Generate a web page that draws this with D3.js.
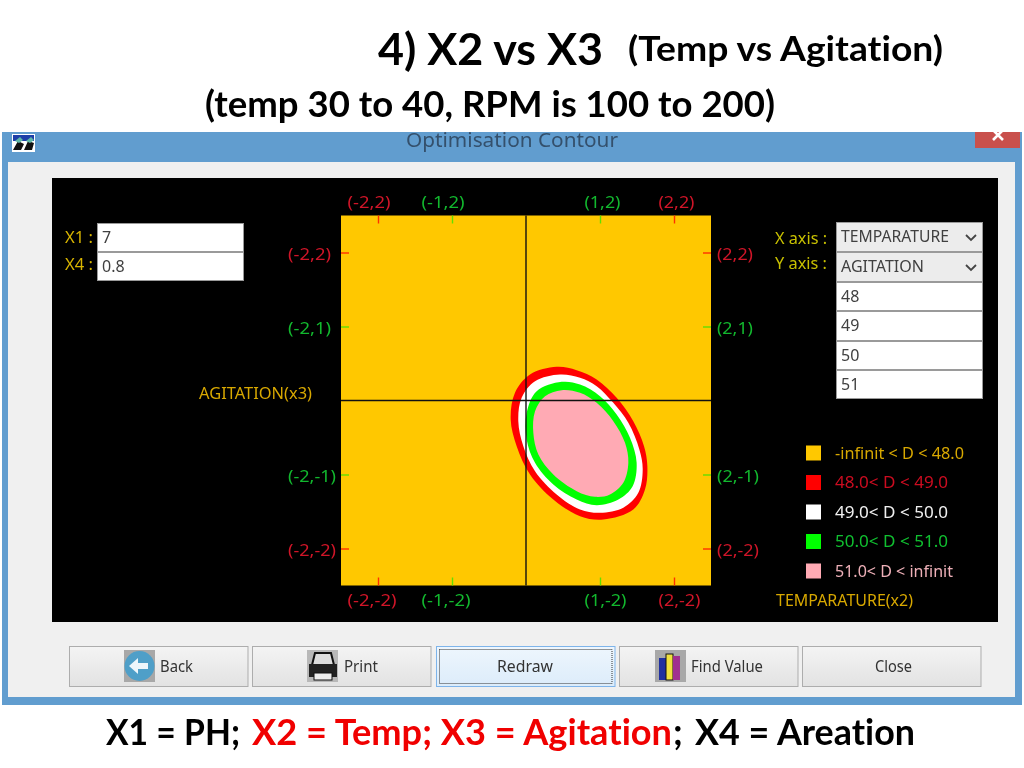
<!DOCTYPE html>
<html><head><meta charset="utf-8">
<script src="https://cdn.jsdelivr.net/npm/d3@7"></script>
<style>html,body{margin:0;padding:0;background:#fff;overflow:hidden}svg{display:block;filter:blur(0.45px)}text{font-variant-ligatures:none}</style>
</head><body><svg id="c" width="1024" height="768"></svg>
<script>
// ---- data (coded units) ----
const xTicks = [-2, -1, 1, 2];
const yTicks = [2, 1, -1, -2];
const contourLevels = ["48.0-49.0", "49.0-50.0", "50.0-51.0", "51.0+"];
const contour48 = [[0.414,0.455],[0.685,0.410],[0.955,0.284],[1.225,0.036],[1.450,-0.279],[1.595,-0.617],[1.640,-0.887],[1.608,-1.203],[1.450,-1.473],[1.045,-1.608],[0.730,-1.563],[0.369,-1.338],[0.054,-1.000],[-0.126,-0.617],[-0.207,-0.257],[-0.149,0.104],[0.054,0.351]];
const contour49 = [[0.459,0.351],[0.730,0.306],[0.955,0.194],[1.180,-0.032],[1.383,-0.302],[1.532,-0.662],[1.577,-0.932],[1.518,-1.248],[1.315,-1.450],[1.000,-1.518],[0.730,-1.473],[0.414,-1.270],[0.122,-0.955],[-0.036,-0.617],[-0.104,-0.279],[-0.059,0.036],[0.122,0.261]];
const contour50 = [[0.482,0.252],[0.730,0.216],[1.000,0.059],[1.225,-0.189],[1.405,-0.505],[1.495,-0.842],[1.441,-1.158],[1.248,-1.338],[0.955,-1.414],[0.685,-1.338],[0.369,-1.135],[0.122,-0.842],[0.009,-0.527],[0.009,-0.167],[0.144,0.126]];
const contour51 = [[0.482,0.140],[0.730,0.104],[0.955,-0.032],[1.180,-0.279],[1.338,-0.572],[1.383,-0.842],[1.315,-1.113],[1.135,-1.270],[0.932,-1.302],[0.685,-1.225],[0.369,-1.000],[0.167,-0.730],[0.099,-0.437],[0.122,-0.144],[0.257,0.059]];
const legendLabels = ["-infinit < D < 48.0","48.0< D < 49.0","49.0< D < 50.0","50.0< D < 51.0","51.0< D < infinit"];
const levelInputs = ["48","49","50","51"];
const buttonLabels = ["Back","Print","Redraw","Find Value","Close"];

// ---- styles ----
const swatchColors = ["#ffc800","#ff0000","#ffffff","#00ff00","#ffaab4"];
const legendText = ["#d8a800","#cc0c20","#f0f0f0","#10c030","#eeb0b8"];
const tickColor = v => Math.abs(v) === 2 ? "#d01528" : "#12b82e";
const markColor = v => Math.abs(v) === 2 ? "#ff3000" : "#60e000";
const UI = "'Noto Sans','Open Sans',sans-serif";
const svg = d3.select("#c");

function rect(x0,y0,x1,y1,fill,stroke){
  return svg.append("rect").attr("x",x0).attr("y",y0).attr("width",x1-x0).attr("height",y1-y0)
    .attr("fill",fill).attr("stroke",stroke||"none");
}
function text(x,y,s,opt){
  opt=opt||{};
  const t=svg.append("text").attr("x",x).attr("y",y).text(s)
    .attr("font-family",opt.font||UI).attr("font-size",opt.size||16)
    .attr("font-weight",opt.weight||400).attr("fill",opt.fill||"#000")
    .attr("text-anchor",opt.anchor||"start");
  if(opt.len) t.attr("textLength",opt.len).attr("lengthAdjust","spacingAndGlyphs");
  return t;
}

// ---- slide headings ----
const HEAD="Lato,Carlito,sans-serif";
text(378,65,"4) X2 vs X3",{font:HEAD,size:43,weight:700,len:225});
text(628,61,"(Temp vs Agitation)",{font:HEAD,size:34,weight:700,len:315});
text(205,117,"(temp 30 to 40, RPM is 100 to 200)",{font:HEAD,size:36,weight:700,len:570});
const foot=svg.append("text").attr("y",745).attr("font-family",HEAD).attr("font-size",36).attr("font-weight",700);
foot.append("tspan").attr("x",106).attr("textLength",134).attr("lengthAdjust","spacingAndGlyphs").text("X1 = PH;");
foot.append("tspan").attr("x",252).attr("textLength",420).attr("lengthAdjust","spacingAndGlyphs").attr("fill","#f00000").text("X2 = Temp; X3 = Agitation");
foot.append("tspan").attr("x",673).text(";");
foot.append("tspan").attr("x",695).attr("textLength",220).attr("lengthAdjust","spacingAndGlyphs").text("X4 = Areation");

// ---- window chrome ----
rect(2,132,1022,705,"#619dcf");
rect(8,162,1015,697,"#f0f0f0");
rect(975,132,1020,148,"#c9504c");
svg.append("path").attr("d","M993 130L1003 140M1003 130L993 140").attr("stroke","#fff").attr("stroke-width",2.6);
rect(985,126,1012,132,"#fff");
text(512,147,"Optimisation Contour",{fill:"#34506c",size:19,anchor:"middle",len:212});
rect(12,134,35,152,"#ffffff");
rect(13,135,34,141,"#1e3fa8");
svg.append("path").attr("d","M13 150l5-9 6 3-3 6zM24 150l4-9 6 2-2 7z").attr("fill","#111");
svg.append("path").attr("d","M15 141l5-4 3 3-4 3zM26 141l5-4 3 3-4 3z").attr("fill","#5fb8a8");
rect(52,178,998,622,"#000");

// ---- plot ----
const x=d3.scaleLinear().domain([-2.5,2.5]).range([341,711]);
const y=d3.scaleLinear().domain([-2.5,2.5]).range([585.5,215.5]);
rect(x(-2.5),y(2.5),x(2.5),y(-2.5),"#ffc800");
const line=d3.line().x(d=>x(d[0])).y(d=>y(d[1])).curve(d3.curveCatmullRomClosed);
svg.append("g").selectAll("path")
  .data([contour48,contour49,contour50,contour51]).join("path")
  .attr("d",line).attr("fill",(d,i)=>swatchColors[i+1]);
svg.append("line").attr("x1",x(0)).attr("x2",x(0)).attr("y1",y(2.5)).attr("y2",y(-2.5)).attr("stroke","#111").attr("stroke-width",1.4);
svg.append("line").attr("x1",x(-2.5)).attr("x2",x(2.5)).attr("y1",y(0)).attr("y2",y(0)).attr("stroke","#111").attr("stroke-width",1.4);

function drawAxis(axis,tx,ty,vals,labelOf,labelLen){
  const g=svg.append("g").attr("transform",`translate(${tx},${ty})`)
    .call(axis.tickValues(vals).tickSize(-8).tickFormat(labelOf));
  g.select(".domain").remove();
  g.selectAll(".tick line").attr("stroke",markColor).attr("stroke-width",1.4);
  g.selectAll(".tick text").attr("fill",tickColor).attr("font-family",UI).attr("font-size",16)
    .attr("textLength",labelLen).attr("lengthAdjust","spacingAndGlyphs");
  return g;
}
// the dialog starts each horizontal label at a fixed offset from its tick
const hOffset = v => v < 0 ? -31 : -16;
const hLen = (v,extra) => (v < 0 ? 43 : 36) + extra;
drawAxis(d3.axisTop(x).tickPadding(8),0,y(2.5),xTicks,v=>`(${v},2)`,v=>hLen(v,0))
  .selectAll(".tick text").attr("text-anchor","start").attr("x",hOffset);
drawAxis(d3.axisBottom(x).tickPadding(9),0,y(-2.5),xTicks,v=>`(${v},-2)`,v=>hLen(v,6))
  .selectAll(".tick text").attr("text-anchor","start").attr("x",hOffset);
drawAxis(d3.axisLeft(y).tickPadding(10),x(-2.5),0,yTicks,v=>`(-2,${v})`,v=>v<0?48:43)
  .selectAll(".tick text").attr("text-anchor","start").attr("x",-53).attr("dy","0.42em");
drawAxis(d3.axisRight(y).tickPadding(6),x(2.5),0,yTicks,v=>`(2,${v})`,v=>v<0?42:36)
  .selectAll(".tick text").attr("dy","0.42em");

text(199,399,"AGITATION(x3)",{fill:"#d8a800",len:113});
text(776,606,"TEMPARATURE(x2)",{fill:"#d8a800",len:137});

// ---- inputs ----
function box(x0,y0,x1,y1,label,combo,len){
  const b=rect(x0+.5,y0+.5,x1-.5,y1-.5,combo?"#ececec":"#fff","#9a9a9a");
  text(x0+5,y0+20,label,{fill:"#404040",len:len});
  if(combo) svg.append("path").attr("d",`M${x1-17} ${y0+13}l5 5l5 -5`).attr("fill","none").attr("stroke","#444").attr("stroke-width",1.8);
  return b;
}
text(65,243,"X1 :",{fill:"#d8b400",len:28});
text(65,270,"X4 :",{fill:"#d8b400",len:28});
box(97,223,244,252,"7");
box(97,252,244,281,"0.8");
text(775,244,"X axis :",{fill:"#c8c000",len:52});
text(775,269,"Y axis :",{fill:"#c8c000",len:52});
box(836,222,983,252,"TEMPARATURE",true,108);
box(836,252,983,282,"AGITATION",true,83);
levelInputs.forEach((v,i)=>box(836,[282,311,341,370][i],983,[311,341,370,399][i],v));

// ---- legend ----
const legY=d3.scalePoint().domain(d3.range(5)).range([453,571]);
const legWidths=[129,113,113,113,118];
legendLabels.forEach((s,i)=>{
  rect(806,legY(i)-7.5,821,legY(i)+7.5,swatchColors[i]);
  text(835,legY(i)+5.5,s,{fill:legendText[i],len:legWidths[i]});
});

// ---- buttons ----
const defs=svg.append("defs");
const gr=defs.append("linearGradient").attr("id","btn").attr("x1",0).attr("x2",0).attr("y1",0).attr("y2",1);
gr.append("stop").attr("offset",0).attr("stop-color","#f4f4f4");
gr.append("stop").attr("offset",1).attr("stop-color","#e2e2e2");
const gr2=defs.append("linearGradient").attr("id","btn2").attr("x1",0).attr("x2",0).attr("y1",0).attr("y2",1);
gr2.append("stop").attr("offset",0).attr("stop-color","#eef6fd");
gr2.append("stop").attr("offset",1).attr("stop-color","#dcecfa");
const btnX=[69,252,436,619,802];
const btnTextX=[160,344,497,691,875];
const btnLen=[33,34,56,72,37];
buttonLabels.forEach((s,i)=>{
  const x0=btnX[i];
  rect(x0+.5,646.5,x0+179,686.5,i===2?"url(#btn2)":"url(#btn)",i===2?"#7eb4ea":"#adadad");
  if(i===2) rect(x0+3.5,649.5,x0+176,683.5,"none","#333").attr("stroke-dasharray","1 1");
  text(btnTextX[i],672,s,{fill:"#333",len:btnLen[i]});
});
// icons
rect(124,650,155,682,"#a8a8a8");
svg.append("circle").attr("cx",139.5).attr("cy",666).attr("r",15).attr("fill","#4f9fc8");
svg.append("path").attr("d","M129 666l9-8v5h10v6h-10v5z").attr("fill","#eef6fb");
rect(307,650,338,682,"#b8b8b8");
svg.append("path").attr("d","M315 653h16l3 12h-22z").attr("fill","#ddd").attr("stroke","#111").attr("stroke-width",2);
rect(309,664,337,677,"#222");
rect(314,673,332,680,"#eee","#111");
rect(655,650,686,682,"#a8a8a8");
rect(659,658,666,680,"#2030a0");
rect(666,654,673,680,"#f0e040","#111");
rect(673,656,680,680,"#a03090");
</script></body></html>
